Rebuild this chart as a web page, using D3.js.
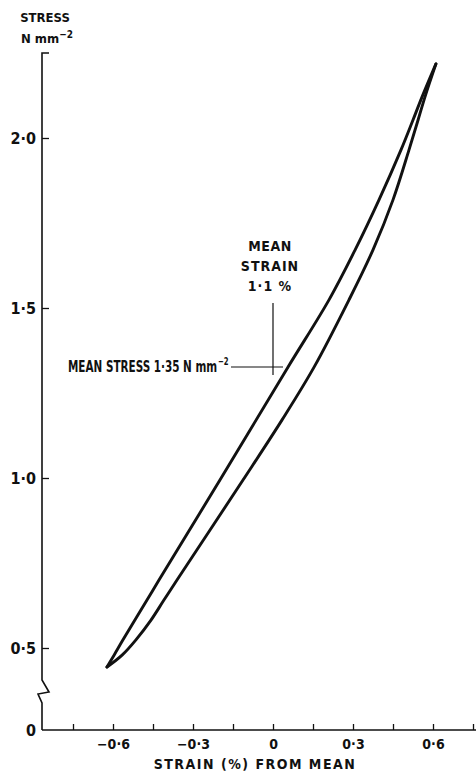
<!DOCTYPE html>
<html>
<head>
<meta charset="utf-8">
<script src="https://cdn.jsdelivr.net/npm/d3@7"></script>
<style>
  html, body { margin: 0; padding: 0; background: #fff; }
  svg { display: block; }
  text { fill: #111; }
</style>
</head>
<body>
<script>
// ---- data ----
const upperStrain = [-0.6225, -0.596, -0.5625, -0.4725, -0.4275, -0.199, 0.056, 0.210, 0.308, 0.3975, 0.480, 0.525, 0.559, 0.611];
const upperStress = [0.444, 0.479, 0.524, 0.641, 0.700, 0.994, 1.326, 1.524, 1.671, 1.818, 1.965, 2.053, 2.121, 2.218];
const lowerStrain = [-0.6225, -0.566, -0.514, -0.4575, -0.409, -0.360, -0.1125, 0.034, 0.154, 0.285, 0.375, 0.450, 0.510, 0.544, 0.570, 0.611];
const lowerStress = [0.444, 0.479, 0.524, 0.582, 0.641, 0.700, 0.994, 1.171, 1.326, 1.524, 1.671, 1.818, 1.965, 2.053, 2.121, 2.218];
const xTickValues = [-0.75, -0.6, -0.45, -0.3, -0.15, 0, 0.15, 0.3, 0.45, 0.6, 0.75];
const xTickLabels = ["", "\u22120\u00b76", "", "\u22120\u00b73", "", "0", "", "0\u00b73", "", "0\u00b76", ""];
const yTickValues = [0.5, 1.0, 1.5, 2.0];
const yTickLabels = ["0\u00b75", "1\u00b70", "1\u00b75", "2\u00b70"];
const meanStrain = 0;
const meanStress = 1.35;

// ---- layout ----
const W = 476, H = 774;
const svg = d3.select("body").append("svg").attr("width", W).attr("height", H);
const font = "'DejaVu Sans Condensed', 'DejaVu Sans', sans-serif";

const x = d3.scaleLinear().domain([-0.6, 0.6]).range([113, 433]);
const y = d3.scaleLinear().domain([0.5, 2.0]).range([648, 138]);
const axisX = 42, baseY = 730, topY = y(2.25);

// y axis line with break
svg.append("path")
  .attr("d", `M${axisX + 7},${topY} L${axisX},${topY} L${axisX},680 L${axisX + 7},692 L${axisX - 4},694 L${axisX},703 L${axisX},${baseY}`)
  .attr("fill", "none").attr("stroke", "#111").attr("stroke-width", 1.6);

// x axis line
svg.append("line").attr("x1", axisX).attr("x2", W).attr("y1", baseY).attr("y2", baseY)
  .attr("stroke", "#111").attr("stroke-width", 1.6);

// x ticks
const gx = svg.append("g").attr("transform", `translate(0,${baseY})`)
  .call(d3.axisBottom(x).tickValues(xTickValues).tickSize(-6).tickPadding(9)
    .tickFormat((d, i) => xTickLabels[i]));
gx.select(".domain").remove();
gx.selectAll("line").attr("stroke", "#111").attr("stroke-width", 1.3);
gx.selectAll("text").attr("font-family", font).attr("font-size", 14).attr("font-weight", "bold").attr("fill", "#111");

// y ticks
const gy = svg.append("g").attr("transform", `translate(${axisX},0)`)
  .call(d3.axisLeft(y).tickValues(yTickValues).tickSize(-7).tickPadding(6)
    .tickFormat((d, i) => yTickLabels[i]));
gy.select(".domain").remove();
gy.selectAll("line").attr("stroke", "#111").attr("stroke-width", 1.3);
gy.selectAll("text").attr("font-family", font).attr("font-size", 16).attr("font-weight", "bold").attr("fill", "#111");

// zero label at broken baseline
svg.append("text").attr("x", axisX - 6).attr("y", baseY).attr("dy", "0.35em")
  .attr("text-anchor", "end").attr("font-family", font).attr("font-size", 16).attr("font-weight", "bold")
  .text("0");

// axis titles
svg.append("text").attr("x", 255).attr("y", 769).attr("text-anchor", "middle")
  .attr("font-family", font).attr("font-size", 14).attr("letter-spacing", 1.5).attr("font-weight", "bold")
  .text("STRAIN (%) FROM MEAN");

svg.append("text").attr("x", 45).attr("y", 22).attr("text-anchor", "middle")
  .attr("font-family", font).attr("font-size", 13).attr("font-weight", "bold")
  .text("STRESS");
const t2 = svg.append("text").attr("x", 47).attr("y", 43).attr("text-anchor", "middle")
  .attr("font-family", font).attr("font-size", 13).attr("font-weight", "bold");
t2.append("tspan").text("N mm");
t2.append("tspan").attr("dy", -5).attr("font-size", 10).text("\u22122");

// hysteresis loop
const line = d3.line().x(d => x(d[0])).y(d => y(d[1])).curve(d3.curveCatmullRom.alpha(0.5));
const upper = upperStrain.map((v, i) => [v, upperStress[i]]);
const lower = lowerStrain.map((v, i) => [v, lowerStress[i]]);
[upper, lower].forEach(pts => {
  svg.append("path").attr("d", line(pts)).attr("fill", "none")
    .attr("stroke", "#111").attr("stroke-width", 2.9).attr("stroke-linecap", "round").attr("stroke-linejoin", "round");
});

// mean crosshair
const mx = x(meanStrain), my = y(meanStress) + 8;
svg.append("line").attr("x1", mx).attr("x2", mx).attr("y1", 303).attr("y2", my + 8)
  .attr("stroke", "#111").attr("stroke-width", 1.2);
svg.append("line").attr("x1", 231).attr("x2", mx + 10).attr("y1", my).attr("y2", my)
  .attr("stroke", "#111").attr("stroke-width", 1.2);

// annotation: mean stress (condensed by horizontal scaling to fit 160px)
const msG = svg.append("g");
const ms = msG.append("text").attr("x", 0).attr("y", 0)
  .attr("font-family", font).attr("font-size", 15).attr("font-weight", "bold");
ms.append("tspan").text("MEAN STRESS 1\u00b735 N mm");
ms.append("tspan").attr("dx", 1).attr("dy", -7).attr("font-size", 10).text("\u22122");
const natW = ms.node().getComputedTextLength();
const sx = Math.min(1, 160 / natW);
msG.attr("transform", `translate(68,${my + 5}) scale(${sx},1)`);

["MEAN", "STRAIN", "1\u00b71 %"].forEach((s, i) => {
  svg.append("text").attr("x", 270).attr("y", 251 + i * 20).attr("text-anchor", "middle")
    .attr("font-family", font).attr("font-size", 14).attr("font-weight", "bold")
    .attr("letter-spacing", i === 0 ? 0.5 : 1).text(s);
});
</script>
</body>
</html>
